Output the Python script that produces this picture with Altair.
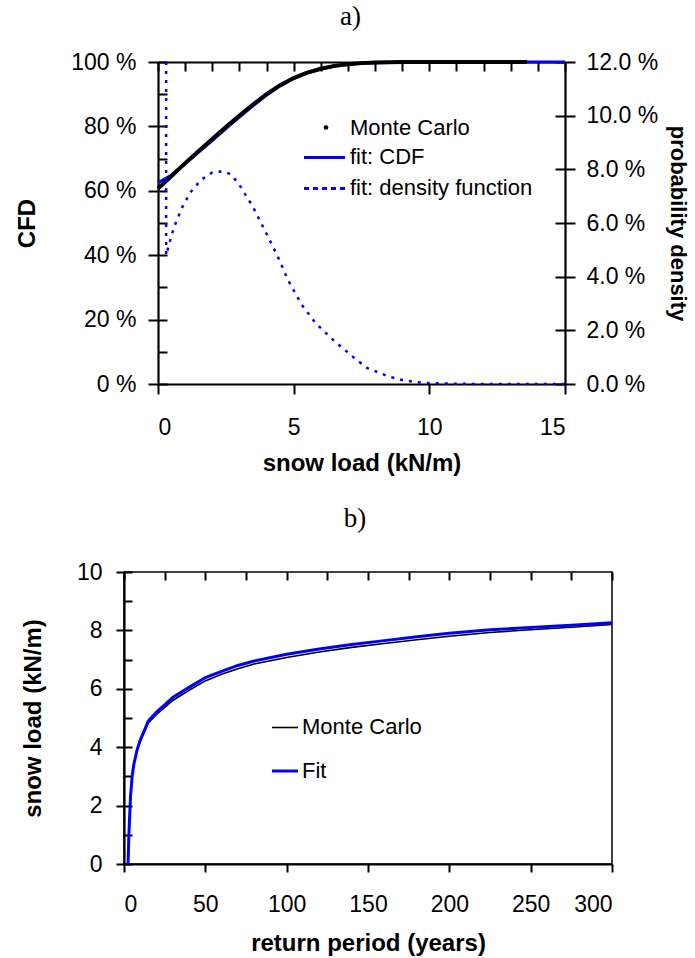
import altair as alt
import pandas as pd

FONT = "Liberation Sans"
SERIF = "Liberation Serif"
BLUE = "#0000FF"

# ---------------- panel a) data ----------------
mc_x = [0, 0.5, 1, 1.5, 2, 2.5, 3, 3.5, 4, 4.5, 5, 5.5, 6, 6.5, 7, 7.5, 8, 8.5, 9, 10, 11, 12, 13, 13.6]
mc_cdf = [60.7, 64.6, 68.6, 72.4, 76.1, 79.8, 83.4, 86.8, 90.0, 92.8, 95.0, 96.7, 97.9, 98.8, 99.3, 99.65, 99.85, 99.95, 100, 100, 100, 100, 100, 100]

fit_x = [0, 0.5, 1, 1.5, 2, 2.5, 3, 3.5, 4, 4.5, 5, 5.5, 6, 6.5, 7, 7.5, 8, 9, 10, 12, 15]
fit_cdf = [62.5, 64.9, 68.4, 72.0, 75.6, 79.3, 82.9, 86.4, 89.7, 92.6, 94.9, 96.6, 97.8, 98.7, 99.3, 99.6, 99.8, 99.95, 100, 100, 100]

dens_x = [0.3, 0.3, 0.42, 0.6, 0.9, 1.2, 1.6, 2.0, 2.2, 2.5, 2.7, 3.0, 3.5, 4.0, 4.4, 4.8, 5.3, 5.8,
          6.5, 7.2, 7.7, 8.5, 9.0, 9.5, 10.0, 11, 12, 13, 14, 15]
dens_pct = [12.0, 4.8, 5.25, 5.87, 6.6, 7.15, 7.62, 7.88, 7.92, 7.9, 7.8, 7.42, 6.6, 5.6, 4.78, 3.86, 2.95, 2.28,
            1.6, 1.0, 0.6, 0.28, 0.15, 0.07, 0.03, 0.01, 0, 0, 0, 0]

# ---------------- panel b) data ----------------
T_years = [2.5, 3, 4, 5, 6, 8, 10, 15, 20, 25, 30, 40, 50, 60, 70, 80, 100, 120, 140, 160, 180, 200, 225, 250, 275, 300]
load_fit = [0, 1.0, 2.3, 3.0, 3.4, 3.9, 4.25, 4.9, 5.2, 5.45, 5.7, 6.05, 6.38, 6.6, 6.8, 6.95, 7.18, 7.36, 7.52, 7.65,
            7.78, 7.9, 8.02, 8.1, 8.18, 8.26]
load_mc = [0, 1.0, 2.3, 3.0, 3.4, 3.88, 4.2, 4.83, 5.12, 5.36, 5.6, 5.95, 6.27, 6.5, 6.69, 6.85, 7.07, 7.26, 7.42, 7.55,
           7.68, 7.8, 7.93, 8.02, 8.11, 8.2]

df_mc = pd.DataFrame({"x": mc_x, "cdf": mc_cdf})
df_fit = pd.DataFrame({"x": fit_x, "cdf": fit_cdf})
df_dens = pd.DataFrame({"x": dens_x, "dens": dens_pct, "i": list(range(len(dens_x)))})
df_b = pd.DataFrame({"T": T_years, "fit": load_fit, "mc": load_mc})
one = pd.DataFrame({"k": [0]})

LBL = 23
TTL = 24
LEG = 22

# panel a) is drawn in a group aligned with panel b); its data area is shifted right by SH px
SH = 34
W_A, H_A = 441, 322
xs_a = alt.Scale(domain=[0, 15], nice=False, zero=False, range=[SH, W_A])
ys_cdf = alt.Scale(domain=[0, 100], nice=False)
ys_den = alt.Scale(domain=[0, 12], nice=False)

a_fit = alt.Chart(df_fit).mark_line(color=BLUE, strokeWidth=3).encode(
    x=alt.X("x:Q", scale=xs_a, axis=alt.Axis(values=[0, 5, 10, 15], tickSize=10, labelPadding=22,
                                             title="snow load (kN/m)", titlePadding=12)),
    y=alt.Y("cdf:Q", scale=ys_cdf, axis=alt.Axis(orient="left", offset=-SH, values=[0, 20, 40, 60, 80, 100],
                                                 tickSize=10, labelPadding=12, labelExpr="datum.value + ' %'",
                                                 title="CFD", titlePadding=31)),
)
a_mc = alt.Chart(df_mc).mark_line(color="black", strokeWidth=4).encode(
    x=alt.X("x:Q", scale=xs_a, axis=alt.Axis(values=list(range(0, 16)), tickSize=9, offset=-9,
                                             labels=False, domain=False, title=None)),
    y=alt.Y("cdf:Q", scale=ys_cdf, axis=alt.Axis(orient="left", values=list(range(0, 101, 10)), tickSize=9,
                                                 offset=-(SH + 9), labels=False, domain=False, title=None)),
)
a_den = alt.Chart(df_dens).mark_line(color=BLUE, strokeWidth=2.5, strokeDash=[3, 6]).encode(
    x=alt.X("x:Q", scale=xs_a, axis=None),
    y=alt.Y("dens:Q", scale=ys_den, axis=alt.Axis(orient="right", values=[0, 2, 4, 6, 8, 10, 12], tickSize=10,
                                                  labelPadding=11,
                                                  labelExpr="format(datum.value, '.1f') + ' %'",
                                                  title="probability density", titleFontSize=22,
                                                  titlePadding=8)),
    order=alt.Order("i:Q"),
)
a_den_in = alt.Chart(df_dens).mark_line(opacity=0).encode(
    x=alt.X("x:Q", scale=xs_a, axis=alt.Axis(orient="top", ticks=False, labels=False, domain=True,
                                             domainWidth=2, title=None)),
    y=alt.Y("dens:Q", scale=ys_den, axis=alt.Axis(orient="right", values=[0, 2, 4, 6, 8, 10, 12], tickSize=10,
                                                  offset=-10, labels=False, domain=False, title=None)),
    order=alt.Order("i:Q"),
)

legA_pt = alt.Chart(one).mark_circle(color="black", size=22, opacity=1).encode(
    x=alt.value(SH + 168), y=alt.value(65.5))
legA_t1 = alt.Chart(one).mark_text(align="left", baseline="middle", font=FONT, fontSize=LEG, color="black").encode(
    x=alt.value(SH + 192), y=alt.value(66), text=alt.value("Monte Carlo"))
legA_r2 = alt.Chart(one).mark_rule(color=BLUE, strokeWidth=3).encode(
    x=alt.value(SH + 146), x2=alt.value(SH + 187), y=alt.value(95.5))
legA_t2 = alt.Chart(one).mark_text(align="left", baseline="middle", font=FONT, fontSize=LEG, color="black").encode(
    x=alt.value(SH + 192), y=alt.value(95), text=alt.value("fit: CDF"))
legA_r3 = alt.Chart(one).mark_rule(color=BLUE, strokeWidth=3, strokeDash=[5, 4]).encode(
    x=alt.value(SH + 146), x2=alt.value(SH + 187), y=alt.value(126.5))
legA_t3 = alt.Chart(one).mark_text(align="left", baseline="middle", font=FONT, fontSize=LEG, color="black").encode(
    x=alt.value(SH + 192), y=alt.value(126), text=alt.value("fit: density function"))

top = alt.layer(a_fit, a_mc, a_den, a_den_in, legA_pt, legA_t1, legA_r2, legA_t2, legA_r3, legA_t3).resolve_scale(
    y="independent").resolve_axis(x="independent", y="independent").properties(
    width=W_A, height=H_A,
    view=alt.ViewBackground(stroke="transparent"),
    title=alt.TitleParams("a)", font=SERIF, fontSize=27, fontWeight="normal", anchor="middle", frame="group",
                          dx=SH / 2 - 11, offset=20, color="black"),
)

# ---------------- panel b) ----------------
xs_b = alt.Scale(domain=[0, 300], nice=False, zero=False)
ys_b = alt.Scale(domain=[0, 10], nice=False)
W_B, H_B = 488, 292

b_mc = alt.Chart(df_b).mark_line(color="black", strokeWidth=1.6).encode(
    x=alt.X("T:Q", scale=xs_b, axis=alt.Axis(values=[0, 50, 100, 150, 200, 250, 300], tickSize=8, labelPadding=21,
                                             title="return period (years)", titlePadding=15)),
    y=alt.Y("mc:Q", scale=ys_b, axis=alt.Axis(orient="left", values=[0, 2, 4, 6, 8, 10], tickSize=8,
                                              labelPadding=14, title="snow load (kN/m)", titlePadding=31)),
)
b_fit = alt.Chart(df_b).mark_line(color=BLUE, strokeWidth=3).encode(
    x=alt.X("T:Q", scale=xs_b, axis=alt.Axis(values=list(range(0, 301, 25)), tickSize=8, offset=-8,
                                             labels=False, domain=False, title=None)),
    y=alt.Y("fit:Q", scale=ys_b, axis=alt.Axis(orient="left", values=list(range(0, 11)), tickSize=8, offset=-8,
                                               labels=False, domain=False, title=None)),
)
legB_r1 = alt.Chart(one).mark_rule(color="black", strokeWidth=1.6).encode(
    x=alt.value(148), x2=alt.value(174), y=alt.value(155.5))
legB_t1 = alt.Chart(one).mark_text(align="left", baseline="middle", font=FONT, fontSize=LEG, color="black").encode(
    x=alt.value(178), y=alt.value(155), text=alt.value("Monte Carlo"))
legB_r2 = alt.Chart(one).mark_rule(color=BLUE, strokeWidth=3).encode(
    x=alt.value(148), x2=alt.value(174), y=alt.value(199))
legB_t2 = alt.Chart(one).mark_text(align="left", baseline="middle", font=FONT, fontSize=LEG, color="black").encode(
    x=alt.value(178), y=alt.value(198.5), text=alt.value("Fit"))

bottom = alt.layer(b_mc, b_fit, legB_r1, legB_t1, legB_r2, legB_t2).resolve_axis(
    x="independent", y="independent").properties(
    width=W_B, height=H_B,
    title=alt.TitleParams("b)", font=SERIF, fontSize=27, fontWeight="normal", anchor="middle", frame="group",
                          dx=-13, offset=28, color="black"),
)

chart = alt.vconcat(top, bottom, spacing=28).properties(
    padding={"left": 15, "top": 2, "right": 0, "bottom": 0},
    background="white",
).configure_view(stroke="black", strokeWidth=1.5).configure_axis(
    labelFont=FONT, labelFontSize=LBL, labelColor="black",
    titleFont=FONT, titleFontSize=TTL, titleFontWeight="bold", titleColor="black",
    domainColor="black", domainWidth=2.2, tickColor="black", tickWidth=2, grid=False,
)

chart.save("out.html", embed_options={"renderer": "svg", "actions": False})
